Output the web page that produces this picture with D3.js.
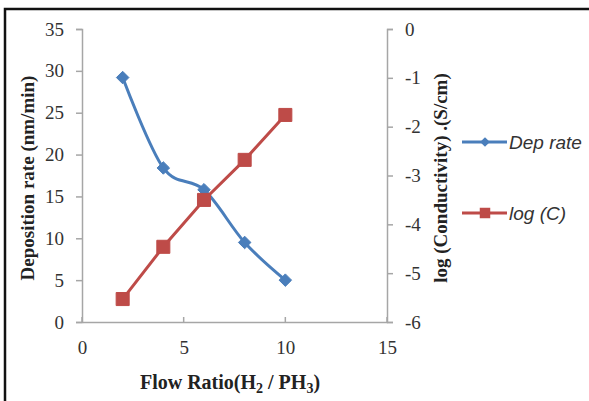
<!DOCTYPE html>
<html>
<head>
<meta charset="utf-8">
<script src="https://cdn.jsdelivr.net/npm/d3@7"></script>
<style>
  body { margin: 0; background: #fff; }
  svg { display: block; }
</style>
</head>
<body>
<div id="container"></div>
<script>
// data
let flowRatio = [2, 4, 6, 8, 10]
let depRate = [29.2, 18.4, 15.8, 9.5, 5.0]
let logC = [-5.53, -4.46, -3.5, -2.68, -1.76]

let xTicks = [0, 5, 10, 15]
let leftTicks = [0, 5, 10, 15, 20, 25, 30, 35]
let rightTicks = [0, -1, -2, -3, -4, -5, -6]

let screenWidth = 589
let screenHeight = 401
let blue = '#4a7ebb'
let red = '#be4b48'
let axisGray = '#a6a6a6'
let labelColor = '#333'
let serif = '"Liberation Serif", "DejaVu Serif", serif'
let sans = '"Liberation Sans", Arial, sans-serif'

let svg

function main() {
    createSVG()
    build()
}

function createSVG() {
    svg = d3.select('#container').append('svg')
      .attr('width', screenWidth)
      .attr('height', screenHeight)

    // frame of the figure (only top and left edges are visible)
    svg.append('path')
      .attr('d', 'M5,405 L5,9 L595,9')
      .attr('fill', 'none')
      .attr('stroke', '#111')
      .attr('stroke-width', 2.5)
}

function styleAxis(g) {
    g.select('.domain').attr('stroke', axisGray).attr('stroke-width', 1.5)
    g.selectAll('.tick line').attr('stroke', axisGray).attr('stroke-width', 1.5)
    g.selectAll('.tick text')
      .attr('fill', labelColor)
      .style('font-family', serif)
      .style('font-size', '19px')
}

function build() {
    const xScale = d3.scaleLinear().domain([0, 15]).range([82, 387])
    const yLeft = d3.scaleLinear().domain([0, 35]).range([322, 29])
    const yRight = d3.scaleLinear().domain([-6, 0]).range([322, 29])

    const xAxis = d3.axisBottom(xScale).tickValues(xTicks).tickSize(0).tickPadding(19)
    const leftAxis = d3.axisLeft(yLeft).tickValues(leftTicks).tickSizeOuter(0).tickSize(6).tickPadding(12)
    const rightAxis = d3.axisRight(yRight).tickValues(rightTicks).tickSizeOuter(0).tickSize(6).tickPadding(12)
      .tickFormat(d => d === 0 ? '0' : '-' + Math.abs(d))

    svg.append('g')
      .attr('transform', 'translate(0,322)')
      .call(xAxis)
      .call(styleAxis)

    svg.append('g')
      .attr('transform', 'translate(82,0)')
      .call(leftAxis)
      .call(styleAxis)

    svg.append('g')
      .attr('transform', 'translate(387,0)')
      .call(rightAxis)
      .call(styleAxis)

    // small upward ticks on the x axis
    svg.append('g').selectAll('line')
      .data(xTicks)
      .enter()
      .append('line')
      .attr('x1', d => xScale(d))
      .attr('x2', d => xScale(d))
      .attr('y1', 322)
      .attr('y2', 317)
      .attr('stroke', axisGray)
      .attr('stroke-width', 1.5)

    // axis titles
    svg.append('text')
      .attr('transform', 'translate(34,178) rotate(-90)')
      .attr('text-anchor', 'middle')
      .style('font-family', serif)
      .style('font-weight', 'bold')
      .style('font-size', '19px')
      .attr('fill', '#222')
      .text('Deposition rate (nm/min)')

    svg.append('text')
      .attr('transform', 'translate(447,178) rotate(-90)')
      .attr('text-anchor', 'middle')
      .style('font-family', serif)
      .style('font-weight', 'bold')
      .style('font-size', '19px')
      .attr('fill', '#222')
      .text('log (Conductivity) .(S/cm)')

    let xTitle = svg.append('text')
      .attr('x', 230)
      .attr('y', 389)
      .attr('text-anchor', 'middle')
      .style('font-family', serif)
      .style('font-weight', 'bold')
      .style('font-size', '20px')
      .attr('fill', '#222')
    xTitle.append('tspan').text('Flow Ratio(H')
    xTitle.append('tspan').attr('dy', 4).style('font-size', '14px').text('2')
    xTitle.append('tspan').attr('dy', -4).text(' / PH')
    xTitle.append('tspan').attr('dy', 4).style('font-size', '14px').text('3')
    xTitle.append('tspan').attr('dy', -4).text(')')

    let depPoints = flowRatio.map((f, i) => [f, depRate[i]])
    let logPoints = flowRatio.map((f, i) => [f, logC[i]])

    // log (C) series - straight lines with squares
    const redLine = d3.line()
      .x(d => xScale(d[0]))
      .y(d => yRight(d[1]))
    svg.append('path')
      .datum(logPoints)
      .attr('d', redLine)
      .attr('fill', 'none')
      .attr('stroke', red)
      .attr('stroke-width', 3)

    // Dep rate series - smoothed line with diamonds
    const blueLine = d3.line()
      .curve(d3.curveCatmullRom.alpha(0))
      .x(d => xScale(d[0]))
      .y(d => yLeft(d[1]))
    svg.append('path')
      .datum(depPoints)
      .attr('d', blueLine)
      .attr('fill', 'none')
      .attr('stroke', blue)
      .attr('stroke-width', 3)

    const diamond = d3.symbol().type(d3.symbolDiamond2).size(100)
    const square = d3.symbol().type(d3.symbolSquare).size(170)

    svg.selectAll('.dep-marker')
      .data(depPoints)
      .enter()
      .append('path')
      .attr('class', 'dep-marker')
      .attr('d', diamond)
      .attr('transform', d => `translate(${xScale(d[0])},${yLeft(d[1])})`)
      .attr('fill', blue)
      .attr('stroke', blue)

    svg.selectAll('.log-marker')
      .data(logPoints)
      .enter()
      .append('path')
      .attr('class', 'log-marker')
      .attr('d', square)
      .attr('transform', d => `translate(${xScale(d[0])},${yRight(d[1])})`)
      .attr('fill', red)
      .attr('stroke', red)

    // legend
    let legendItems = [
        {name: 'Dep rate', color: blue, symbol: d3.symbol().type(d3.symbolDiamond2).size(60), y: 142},
        {name: 'log (C)', color: red, symbol: d3.symbol().type(d3.symbolSquare).size(110), y: 213}
    ]
    let legend = svg.selectAll('.legend')
      .data(legendItems)
      .enter()
      .append('g')
      .attr('class', 'legend')
      .attr('transform', d => `translate(462,${d.y})`)
    legend.append('line')
      .attr('x1', 0).attr('x2', 45)
      .attr('stroke', d => d.color)
      .attr('stroke-width', 3)
    legend.append('path')
      .attr('d', d => d.symbol())
      .attr('transform', 'translate(23,0)')
      .attr('fill', d => d.color)
    legend.append('text')
      .attr('x', 47)
      .attr('y', 7)
      .style('font-family', sans)
      .style('font-style', 'italic')
      .style('font-size', '19px')
      .attr('fill', '#333')
      .text(d => d.name)
}

main()
</script>
</body>
</html>
